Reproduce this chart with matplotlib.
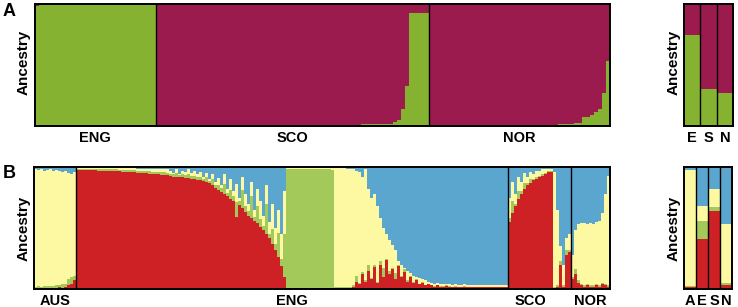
import numpy as np
import matplotlib
matplotlib.use("Agg")
import matplotlib.pyplot as plt

plt.rcParams['font.family'] = ['Liberation Sans', 'DejaVu Sans']

# ---------------- Panel A (K=2): green ancestry per individual ----------------
A_groups = ["ENG", "SCO", "NOR"]
A_eng_green = [0.98, 0.99, 0.995] + [0.998] * 27
A_sco_green = [0.008] * 50 + [0.012, 0.015, 0.015, 0.015, 0.015, 0.02, 0.02, 0.02,
                              0.02, 0.03, 0.05, 0.14, 0.33, 0.93, 0.93, 0.93, 0.93, 0.93]
A_nor_green = [0.005] * 27 + [0.008, 0.01, 0.01, 0.012, 0.012, 0.015, 0.015, 0.018, 0.02,
                              0.022, 0.025, 0.07, 0.075, 0.09, 0.117, 0.14, 0.27, 0.53]
A_summary_labels = ["E", "S", "N"]
A_summary_green = [0.75, 0.30, 0.27]

# ---------------- Panel B (K=4): red, green, blue (yellow = remainder) ----------------
B_groups = ["AUS", "ENG", "SCO", "NOR"]

B_aus_red = [.01, .01, .01, .01, .012, .01, .01, .012, .015, .01, .02, .03, .04, .07]
B_aus_green = [.01, .012, .01, .012, .01, .015, .012, .02, .015, .03, .025, .05, .06, .04]
B_aus_blue = [.02, .025, .02, .03, .025, .02, .03, .025, .03, .04, .03, .05, .06, .04]

B_eng_red = ([0.975, 0.975, 0.974, 0.974, 0.973, 0.972, 0.972, 0.971, 0.970, 0.970, 0.969,
              0.968, 0.967, 0.966, 0.965, 0.963, 0.961, 0.960, 0.958, 0.956, 0.954, 0.952,
              0.950, 0.948, 0.946, 0.944, 0.942, 0.940, 0.937, 0.934, 0.931]
             + [.925, .922, .920, .918, .915, .912, .910, .905, .900, .895, .890, .885, .875,
                .865, .850, .830, .810, .795, .780, .760, .740, .720, .590, .690, .660, .630,
                .600, .580, .560, .540, .510, .480, .450, .420, .370, .320, .260, .190, .100]
             + [.005] * 16
             + [.008, .008, .008, .008, .008, .008, .02, .06]
             + [.04, .12, .06, .15, .08, .18, .05, .20, .10, .24, .12, .16, .08, .19, .10, .14,
                .06, .10, .05, .07, .04, .05, .03, .04]
             + [.03, .02, .03, .02, .02, .025, .02, .015, .02, .015, .015, .02] + [.015] * 14)
B_eng_green = ([.010, .010, .010, .010, .011, .011, .012, .012, .012, .012, .013, .013, .013,
                .014, .014, .015, .015, .016, .016, .017, .017, .018, .018, .018, .019, .019,
                .020, .020, .020, .021, .021]
               + [.02, .02, .03, .02, .03, .02, .03, .02, .03, .02, .03, .02, .04, .02, .05, .02,
                  .04, .03, .08, .03, .07, .04, .12, .03, .15, .05, .04, .18, .03, .14, .06, .04,
                  .25, .03, .12, .05, .20, .06, .35]
               + [.975, .98, .975, .98, .978, .98, .975, .98, .978, .98, .975, .98, .978, .98,
                  .975, .97]
               + [.01, .01, .01, .012, .01, .01, .015, .05]
               + [.01, .02, .01, .05, .01, .02, .01, .03, .07, .01, .03, .01, .05, .01, .01, .02,
                  .01, .01, .01, .01, .005, .005, .005, .005]
               + [.005] * 26)
B_eng_blue = ([.005, .005, .006, .006, .006, .007, .007, .007, .008, .008, .008, .009, .009,
               .010, .010, .010, .011, .011, .012, .012, .013, .013, .014, .014, .015, .016,
               .015, .017, .018, .016, .020]
              + [.03, .05, .02, .06, .03, .04, .02, .05, .03, .06, .04, .08, .05, .10, .06, .12,
                 .09, .15, .06, .18, .10, .20, .14, .25, .08, .22, .30, .12, .35, .18, .28, .40,
                 .15, .45, .30, .50, .35, .55, .20]
              + [.005] * 16
              + [.01, .01, .012, .01, .015, .02, .02, .03]
              + [.04, .08, .02, .18, .25, .22, .32, .42, .50, .55, .60, .64, .68, .77, .80, .83,
                 .85, .87, .89, .90, .91, .92, .93, .94]
              + [.95, .955, .95, .96, .96, .955, .96, .965, .96, .965, .965, .96] + [.965] * 14)

B_sco_red = [.55, .62, .68, .74, .78, .82, .85, .87, .89, .90, .92, .93, .94, .955, .96,
             .01, .02, .20, .02, .28, .30]
B_sco_green = [.03, .10, .02, .06, .02, .05, .02, .03, .01, .02, .01, .01, .01, .01, .01,
               .01, .01, .03, .01, .04, .02]
B_sco_blue = [.25, .12, .22, .08, .12, .05, .08, .04, .06, .03, .03, .02, .02, .015, .015,
              .04, .35, .65, .80, .58, .55]

B_nor_red = [.08, .12, .05, .03, .02, .03, .02, .02, .03, .02, .04, .03, .02]
B_nor_green = [.02, .04, .02, .01, .01, .01, .01, .01, .01, .01, .01, .01, .01]
B_nor_blue = [.72, .52, .47, .46, .46, .47, .46, .47, .45, .44, .38, .22, .07]

B_summary_labels = ["A", "E", "S", "N"]
B_summary_red = [0.017, 0.41, 0.64, 0.036]
B_summary_green = [0.011, 0.15, 0.03, 0.014]
B_summary_yellow = [0.95, 0.12, 0.15, 0.48]
B_summary_blue = [0.022, 0.32, 0.18, 0.47]

# ---------------- colours ----------------
C_GREEN_A = "#86b232"
C_MAG = "#9c1b4f"
C_RED = "#cd2126"
C_GREEN_B = "#a3c95a"
C_YEL = "#fdf9a3"
C_BLUE = "#5aa6cf"

W, H = 738, 307
fig = plt.figure(figsize=(W / 100, H / 100), dpi=100)


def ax_px(x0, y0, x1, y1):
    return fig.add_axes([x0 / W, 1 - y1 / H, (x1 - x0) / W, (y1 - y0) / H])


def style(ax, n, centers, labels, bounds):
    ax.set_xlim(0, n)
    ax.set_ylim(0, 1)
    ax.set_yticks([])
    ax.set_xticks(centers)
    ax.set_xticklabels(labels, fontsize=10.5, fontweight='bold')
    ax.tick_params(axis='x', length=0, pad=3.5)
    for b in bounds:
        ax.axvline(b, color='black', lw=1.0)
    for s in ax.spines.values():
        s.set_linewidth(1.4)
        s.set_color('black')


def stacked(ax, comps, colors):
    n = len(comps[0])
    x = np.arange(n)
    bottom = np.zeros(n)
    for vals, c in zip(comps, colors):
        vals = np.asarray(vals, dtype=float)
        ax.bar(x, vals, bottom=bottom, width=1.0, align='edge', color=c, linewidth=0)
        bottom = bottom + vals


def group_layout(groups):
    sizes = [len(g) for g in groups]
    edges = np.cumsum([0] + sizes)
    centers = (edges[:-1] + edges[1:]) / 2
    return edges, centers

# ---- Panel A main ----
axA = ax_px(35, 4, 610, 126)
A_lists = [A_eng_green, A_sco_green, A_nor_green]
a_green = np.concatenate([np.asarray(v) for v in A_lists])
a_mag = 1 - a_green
stacked(axA, [a_green, a_mag], [C_GREEN_A, C_MAG])
edges, centers = group_layout(A_lists)
style(axA, len(a_green), centers, A_groups, edges[1:-1])

# ---- Panel A summary ----
axAs = ax_px(684, 4, 733, 126)
sg = np.asarray(A_summary_green)
stacked(axAs, [sg, 1 - sg], [C_GREEN_A, C_MAG])
style(axAs, 3, np.arange(3) + 0.5, A_summary_labels, [1, 2])

# ---- Panel B main ----
axB = ax_px(34, 167, 610, 289)
reds = [B_aus_red, B_eng_red, B_sco_red, B_nor_red]
greens = [B_aus_green, B_eng_green, B_sco_green, B_nor_green]
blues = [B_aus_blue, B_eng_blue, B_sco_blue, B_nor_blue]
b_red = np.concatenate([np.asarray(v) for v in reds])
b_green = np.concatenate([np.asarray(v) for v in greens])
b_blue = np.concatenate([np.asarray(v) for v in blues])
b_yel = np.clip(1 - b_red - b_green - b_blue, 0, 1)
stacked(axB, [b_red, b_green, b_yel, b_blue], [C_RED, C_GREEN_B, C_YEL, C_BLUE])
edges, centers = group_layout(reds)
centers = list(centers)
centers[2] -= 3
style(axB, len(b_red), centers, B_groups, edges[1:-1])

# ---- Panel B summary ----
axBs = ax_px(684, 167, 732, 289)
stacked(axBs, [B_summary_red, B_summary_green, B_summary_yellow, B_summary_blue],
        [C_RED, C_GREEN_B, C_YEL, C_BLUE])
style(axBs, 4, np.arange(4) + 0.5, B_summary_labels, [1, 2, 3])

# ---- texts ----
fig.text(3 / W, 1 - 12 / H, "A", fontsize=13, fontweight='bold', va='center', ha='left')
fig.text(3 / W, 1 - 173 / H, "B", fontsize=13, fontweight='bold', va='center', ha='left')
for (xc, yc) in [(24, 62), (674, 62), (24, 228), (674, 228)]:
    fig.text(xc / W, 1 - yc / H, "Ancestry", rotation=90, fontsize=11, fontweight='bold',
             va='center', ha='center')

fig.savefig("out.png", dpi=100)
